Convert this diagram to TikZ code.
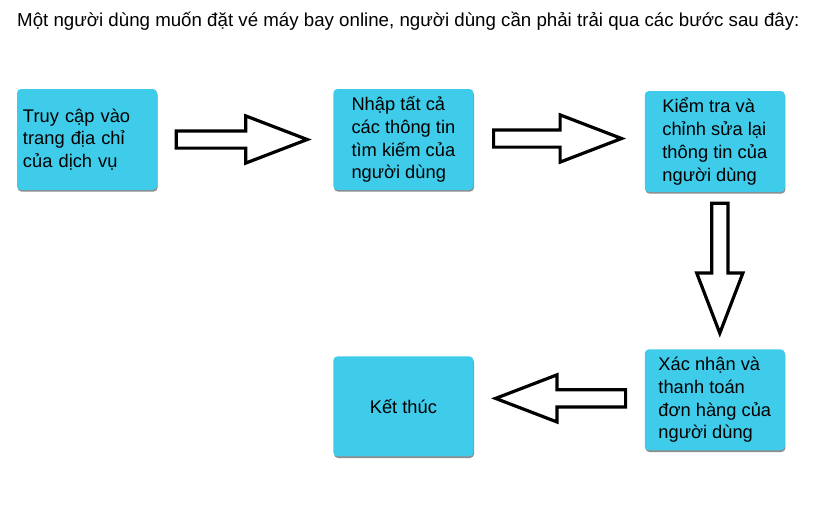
\documentclass[tikz,border=0pt]{standalone}
\usepackage{fontspec}
\setmainfont{Liberation Sans}
\usetikzlibrary{positioning,calc,shapes.arrows,shadows}
\definecolor{stepcyan}{HTML}{3FCCEA}

\begin{document}
\begin{tikzpicture}[
    x=1pt, y=-1pt,
    box/.style={rectangle, fill=stepcyan, rounded corners=4pt, align=left,
      minimum width=140pt, minimum height=101pt, inner xsep=6pt,
      font=\fontsize{18.3}{22.8}\selectfont,
      drop shadow={shadow xshift=0.6pt, shadow yshift=-1.6pt, opacity=0.45, fill=black}},
    flowarrow/.style={single arrow, draw=black, fill=white, line width=3.2pt,
      minimum height=130pt, minimum width=44pt, single arrow head extend=15pt,
      single arrow tip angle=42, inner xsep=0pt, inner ysep=7pt, outer sep=0pt}
  ]
    \useasboundingbox (0,0) rectangle (819,506);

    \node[anchor=base west, inner sep=0pt, font=\fontsize{18.7}{22}\selectfont] (title) at (17,26)
      {Một người dùng muốn đặt vé máy bay online, người dùng cần phải trải qua các bước sau đây:};

    \node[box, text width=128pt] (access) at (87,139.5) {Truy cập vào\\trang địa chỉ\\của dịch vụ};
    \node[box, right=176pt of access] (input) {Nhập tất cả\\các thông tin\\tìm kiếm của\\người dùng};
    \node[box, right=171pt of input, yshift=-2pt] (check) {Kiểm tra và\\chỉnh sửa lại\\thông tin của\\người dùng};
    \node[box, below=157pt of check] (confirm) {Xác nhận và\\thanh toán\\đơn hàng của\\người dùng};
    \node[box, left=171pt of confirm, yshift=-6.5pt, minimum height=100pt] (finish) {Kết thúc};

    % block arrows between the steps
    \node[flowarrow, anchor=tail, minimum height=131pt] (go1) at ($(access.east)+(19,0)$) {};
    \node[flowarrow, anchor=tail, minimum height=128pt] (go2) at ($(input.east)+(20,-1)$) {};
    \node[flowarrow, anchor=tail, shape border rotate=270, inner xsep=6.5pt, inner ysep=0pt] (go3) at ($(check.south)+(5,11)$) {};
    \node[flowarrow, anchor=tail, shape border rotate=180] (go4) at ($(confirm.west)+(-19,-1.5)$) {};

  \end{tikzpicture}
\end{document}
